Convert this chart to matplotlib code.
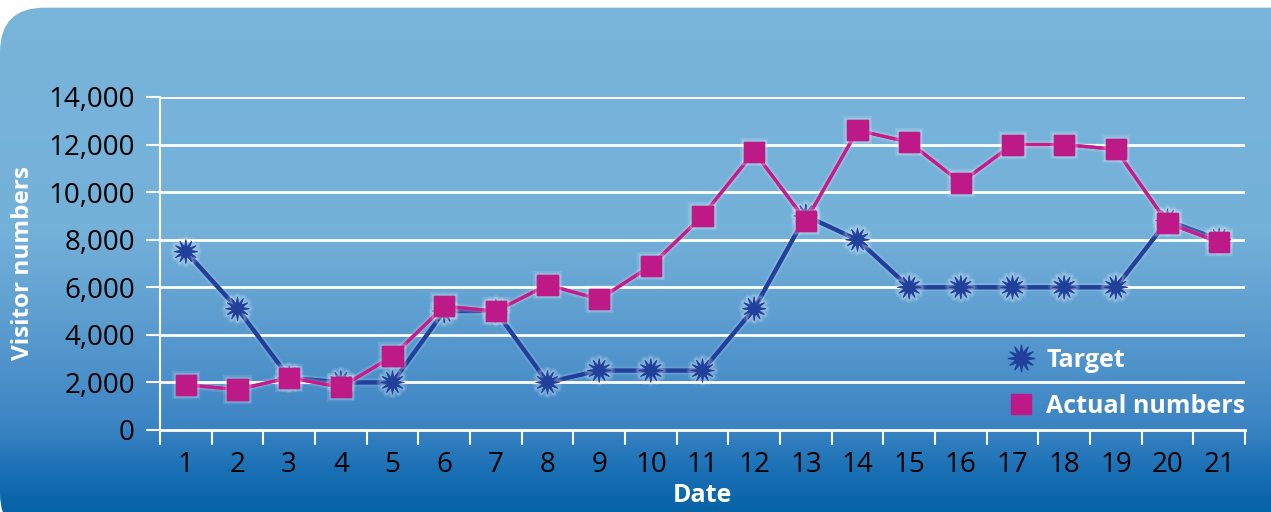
import matplotlib
matplotlib.use("Agg")
import matplotlib.pyplot as plt
import numpy as np
from matplotlib.path import Path
from matplotlib.patches import FancyBboxPatch
from matplotlib.colors import LinearSegmentedColormap
import matplotlib.patheffects as pe

plt.rcParams['font.family'] = ['Open Sans', 'DejaVu Sans']

dates = list(range(1, 22))
target = [7500, 5100, 2200, 2000, 2000, 5000, 5000, 2000, 2500, 2500, 2500,
          5100, 9000, 8000, 6000, 6000, 6000, 6000, 6000, 8800, 8000]
actual = [1900, 1700, 2200, 1800, 3100, 5200, 5000, 6100, 5500, 6900, 9000,
          11700, 8800, 12600, 12100, 10400, 12000, 12000, 11800, 8700, 7900]
yticks = [0, 2000, 4000, 6000, 8000, 10000, 12000, 14000]
ytick_labels = ["0", "2,000", "4,000", "6,000", "8,000", "10,000", "12,000", "14,000"]

# 12 point star marker
n = 12
ang = np.linspace(0, 2 * np.pi, 2 * n, endpoint=False) + np.pi / 2
rad = np.where(np.arange(2 * n) % 2 == 0, 1.0, 0.4)
verts = np.column_stack([rad * np.cos(ang), rad * np.sin(ang)])
verts = np.vstack([verts, verts[:1]])
codes = [Path.MOVETO] + [Path.LINETO] * (2 * n - 1) + [Path.CLOSEPOLY]
star = Path(verts, codes)

fig = plt.figure(figsize=(12.71, 5.12), dpi=100)

# background with gradient and rounded corner
bg = fig.add_axes([0, 0, 1, 1])
bg.set_xlim(0, 1)
bg.set_ylim(0, 1)
bg.axis("off")
cmap = LinearSegmentedColormap.from_list("bg", [
    (0.0, "#0663a5"), (0.08, "#1a70b4"), (0.16, "#3a83c3"),
    (0.36, "#5b9ccf"), (0.55, "#74b1d9"), (1.0, "#79b4da")])
grad = np.linspace(0, 1, 256).reshape(-1, 1)
im = bg.imshow(grad, extent=[0, 1, 0, 1], origin="lower", aspect="auto", cmap=cmap)
box = FancyBboxPatch((0.0, -0.05), 1.2, 1.035, boxstyle="round,pad=0,rounding_size=0.035",
                     transform=bg.transAxes, facecolor="none", edgecolor="none",
                     mutation_aspect=1271 / 512)
bg.add_patch(box)
im.set_clip_path(box)

ax = fig.add_axes([160 / 1271, 82 / 512, 1085 / 1271, 333 / 512])
ax.set_facecolor("none")
ax.set_xlim(0.5, 21.5)
ax.set_ylim(0, 14000)

ax.set_yticks(yticks)
ax.set_yticklabels(ytick_labels)
ax.set_xticks(dates)
ax.set_xticks(np.arange(0.5, 22, 1), minor=True)
ax.tick_params(axis="x", which="major", length=0, pad=15, labelsize=20, labelcolor="black")
ax.tick_params(axis="x", which="minor", length=11, width=1.5, color="white", direction="out")
ax.tick_params(axis="y", length=10, width=1.5, color="white", pad=8, labelsize=20, labelcolor="black")

for yv in yticks[1:]:
    ax.axhline(yv, color="white", lw=2, zorder=1)
for s in ["top", "right"]:
    ax.spines[s].set_visible(False)
ax.spines["left"].set_color("white")
ax.spines["left"].set_linewidth(1.5)
ax.spines["bottom"].set_color("white")
ax.spines["bottom"].set_linewidth(2)

glow = [pe.withStroke(linewidth=6, foreground="white", alpha=0.12),
        pe.withStroke(linewidth=3.5, foreground="white", alpha=0.18)]
ax.plot(dates, target, color="#21409a", lw=3, marker=star, markersize=17,
        markerfacecolor="#21409a", markeredgecolor="#21409a", markeredgewidth=0.5,
        label="Target", zorder=3, path_effects=glow)
ax.plot(dates, actual, color="#c41c8a", lw=2.4, marker="s", markersize=14.5,
        markerfacecolor="#bd1a88", markeredgecolor="#bd1a88",
        label="Actual numbers", zorder=4, path_effects=glow)

ax.set_xlabel("Date", color="white", fontsize=18, fontweight="bold", labelpad=3)
ax.set_ylabel("Visitor numbers", color="white", fontsize=17.5, fontweight="bold", labelpad=10)

h1 = ax.plot([], [], ls="none", marker=star, markersize=19, color="#21409a")[0]
h2 = ax.plot([], [], ls="none", marker="s", markersize=14.5, color="#bd1a88")[0]
leg = ax.legend([h1, h2], ["Target", "Actual numbers"], loc="lower right",
                bbox_to_anchor=(1.021, -0.035), frameon=False, handlelength=1.0,
                handletextpad=0.5, labelspacing=0.85, prop={"size": 18, "weight": "bold"})
for t in leg.get_texts():
    t.set_color("white")

fig.savefig("out.png", dpi=100)
